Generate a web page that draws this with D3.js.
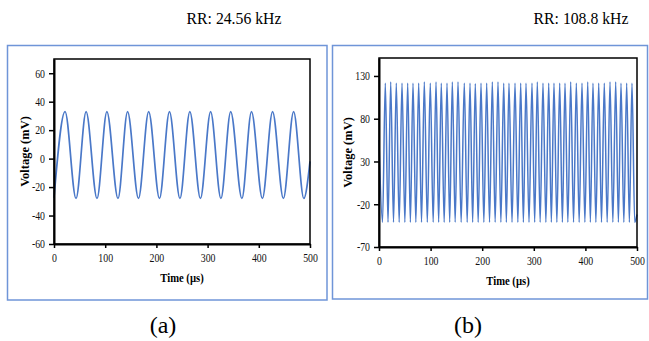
<!DOCTYPE html>
<html>
<head>
<meta charset="utf-8">
<script src="https://cdn.jsdelivr.net/npm/d3@7"></script>
<style>
  body { margin: 0; background: #fff; }
  svg { display: block; }
</style>
</head>
<body>
<div id="chart"></div>
<script>
const timeTicks = [0, 100, 200, 300, 400, 500];
const voltTicksA = [-60, -40, -20, 0, 20, 40, 60];
const voltTicksB = [-70, -20, 30, 80, 130];
const titles = ['RR: 24.56 kHz', 'RR: 108.8 kHz'];
const captions = ['(a)', '(b)'];

// panel (a): peaks and troughs, in time order
const timeA = [0, 21.6, 43, 62.7, 84, 103.3, 125, 143.7, 165, 184.9, 206, 225.5, 246,
  265.3, 286, 305.9, 326, 345.1, 367, 385.7, 407, 426.9, 448, 468.0, 488, 500];
const voltA = [-27.5, 33, -28, 33, -28, 33, -28, 33, -28, 33, -28, 33, -28,
  33, -28, 33, -28, 33, -28, 33, -28, 33, -28, 33, -28, -2];

// panel (b): spike tops and bottoms
const peakTimeB = [12.2, 22.7, 33.5, 44.6, 55.6, 65.9, 76.9, 87.8, 99.4, 110.5, 120.7, 131.8,
  142.1, 153.1, 165.3, 176.4, 186.6, 197.7, 208.7, 219.6, 230.6, 241.7, 251.9, 263.6, 274.6,
  284.9, 296.5, 306.8, 317.8, 328.9, 339.1, 350.2, 360.5, 371.5, 382.4, 393.4, 404.5, 414.7,
  425.8, 436.6, 447.7, 458.7, 469.0, 480.0, 490.3];
const peakVoltB = [121.5, 123, 121.5, 121.5, 121.5, 121.5, 121.5, 123, 121.5, 123, 121.5, 121.5,
  123, 123, 121.5, 121.5, 121, 121.5, 121.5, 123, 123, 121.5, 121.5, 121.5, 121.5,
  121.5, 121.5, 123, 121.5, 121.5, 121.5, 121.5, 121.5, 123, 121.5, 121.5, 123, 121.5,
  121.5, 121.5, 123, 123, 121.5, 121.5, 121.5];
const troughTimeB = [0, 6.8, 17.5, 28.1, 39.1, 50.1, 60.8, 71.4, 82.4, 93.6, 105.0, 115.6, 126.3,
  137.0, 147.6, 159.2, 170.9, 181.5, 192.2, 203.2, 214.2, 225.1, 236.2, 246.8, 257.8, 269.1,
  279.8, 290.7, 301.7, 312.3, 323.4, 334.0, 344.7, 355.4, 366.0, 377.0, 387.9, 399.0, 409.6,
  420.3, 431.2, 442.2, 453.2, 463.9, 474.5, 485.2, 495.6, 500];
const troughVoltB = [55, -41, -41, -41, -41, -41, -41, -41, -41, -41, -41, -41, -41,
  -41, -41, -41, -41, -41, -41, -41, -41, -41, -41, -41, -41, -41,
  -41, -41, -41, -41, -41, -41, -41, -41, -41, -41, -41, -41, -41,
  -41, -41, -41, -41, -41, -41, -41, -41, -32];

const W = 649, H = 341;
const serif = '"Liberation Serif", "Times New Roman", serif';
const blue = '#4a78c8';

const svg = d3.select('#chart').append('svg')
  .attr('width', W)
  .attr('height', H)
  .style('background', '#fff');

const panels = [
  {
    box: { x: 7.5, y: 45.5, w: 319.5, h: 254.5 },
    plot: { l: 54, t: 59, r: 310, b: 244 },
    yDomain: [-60, 70], yTicks: voltTicksA,
    pts: timeA.map((t, i) => ({ t, v: voltA[i] })),
    titleX: 234, capX: 163, yTitleX: 25, lw: 1.7
  },
  {
    box: { x: 332.5, y: 45.5, w: 315, h: 253.5 },
    plot: { l: 379, t: 58, r: 637, b: 247 },
    yDomain: [-70, 151], yTicks: voltTicksB,
    pts: peakTimeB.map((t, i) => ({ t, v: peakVoltB[i] }))
      .concat(troughTimeB.map((t, i) => ({ t, v: troughVoltB[i] })))
      .sort((a, b) => a.t - b.t),
    titleX: 581, capX: 468, yTitleX: 348, lw: 1.5
  }
];

function squished(g, x, y, txt, size, sx, weight, anchor) {
  return g.append('text')
    .attr('transform', `translate(${x},${y}) scale(${sx},1)`)
    .attr('text-anchor', anchor || 'middle')
    .style('font-family', serif)
    .style('font-size', size + 'px')
    .style('font-weight', weight || 'normal')
    .attr('fill', '#000')
    .text(txt);
}

panels.forEach((p, k) => {
  const { l, t, r, b } = p.plot;
  const x = d3.scaleLinear().domain([0, 500]).range([l, r]);
  const y = d3.scaleLinear().domain(p.yDomain).range([b, t]);

  // blue frame around the panel
  svg.append('rect')
    .attr('x', p.box.x).attr('y', p.box.y)
    .attr('width', p.box.w).attr('height', p.box.h)
    .attr('fill', 'none')
    .attr('stroke', '#6f95d8')
    .attr('stroke-width', 1.5);

  squished(svg, p.titleX, 24, titles[k], 17.5, 0.9);
  squished(svg, p.capX, 333, captions[k], 24, 1);

  const line = d3.line()
    .x(d => x(d.t))
    .y(d => y(d.v))
    .curve(d3.curveMonotoneX);

  svg.append('path')
    .datum(p.pts)
    .attr('fill', 'none')
    .attr('stroke', blue)
    .attr('stroke-width', p.lw)
    .attr('d', line);

  // plot box
  svg.append('rect')
    .attr('x', l).attr('y', t)
    .attr('width', r - l).attr('height', b - t)
    .attr('fill', 'none')
    .attr('stroke', '#000')
    .attr('stroke-width', 1.5);

  const xAxis = svg.append('g')
    .attr('transform', `translate(0,${b})`)
    .call(d3.axisBottom(x).tickValues(timeTicks).tickFormat(d => String(d))
      .tickSize(4).tickSizeOuter(0).tickPadding(5));
  const yAxis = svg.append('g')
    .attr('transform', `translate(${l},0)`)
    .call(d3.axisLeft(y).tickValues(p.yTicks).tickFormat(d => String(d))
      .tickSize(5).tickSizeOuter(0).tickPadding(4));

  [xAxis, yAxis].forEach(ax => {
    ax.select('.domain').attr('stroke', '#000').attr('stroke-width', 2);
    ax.selectAll('.tick line').attr('stroke', '#000').attr('stroke-width', 1.5);
    ax.selectAll('.tick text')
      .style('font-family', serif)
      .style('font-size', '12px')
      .attr('fill', '#111');
  });
  xAxis.selectAll('.tick text').attr('transform', 'scale(0.82,1)');
  yAxis.selectAll('.tick text')
    .attr('x', -9 / 0.82)
    .attr('transform', 'scale(0.82,1)');

  squished(svg, (l + r) / 2, b + 38, 'Time (µs)', 12.5, 0.85, 'bold');

  svg.append('text')
    .attr('transform', `translate(${p.yTitleX},${(t + b) / 2}) rotate(-90)`)
    .attr('text-anchor', 'middle')
    .attr('dy', '0.35em')
    .style('font-family', serif)
    .style('font-size', '12.5px')
    .style('font-weight', 'bold')
    .attr('fill', '#000')
    .text('Voltage (mV)');
});
</script>
</body>
</html>
